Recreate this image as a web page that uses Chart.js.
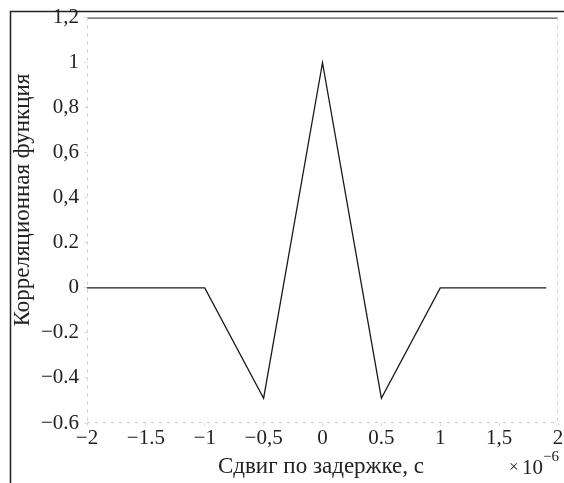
<!DOCTYPE html>
<html><head><meta charset="utf-8">
<script src="https://cdn.jsdelivr.net/npm/chart.js@4"></script>
<style>html,body{margin:0;padding:0;background:#fff;}#wrap{width:564px;height:483px;position:relative;}</style>
</head><body><div id="wrap"><canvas id="c" width="564" height="483"></canvas></div>
<script>
const delayX = [-2, -1, -0.5, 0, 0.5, 1, 1.9];
const corrY = [0, 0, -0.49, 1, -0.49, 0, 0];
const xTickValues = [-2, -1.5, -1, -0.5, 0, 0.5, 1, 1.5, 2];
const xTickLabels = ['\u22122', '\u22121.5', '\u22121', '\u22120,5', '0', '0.5', '1', '1,5', '2'];
const yTickValues = [1.2, 1, 0.8, 0.6, 0.4, 0.2, 0, -0.2, -0.4, -0.6];
const yTickLabels = ['1,2', '1', '0,8', '0,6', '0,4', '0.2', '0', '\u22120.2', '\u22120.4', '\u22120.6'];
const xTitle = 'Сдвиг по задержке, с';
const yTitle = 'Корреляционная функция';

const FONT = '"Liberation Serif", "DejaVu Serif", serif';
function lbl(vals, labs, v){ for(let i=0;i<vals.length;i++){ if(Math.abs(vals[i]-v)<1e-6) return labs[i]; } return ''; }

const decor = {
  id: 'decor',
  beforeDraw(chart){
    const ctx = chart.ctx;
    ctx.save();
    ctx.fillStyle = '#fff'; ctx.fillRect(0,0,chart.width,chart.height);
    ctx.restore();
  },
  afterDraw(chart){
    const ctx = chart.ctx; const a = chart.chartArea;
    ctx.save();
    // outer frame (scan border)
    ctx.strokeStyle = '#222'; ctx.lineWidth = 1.5;
    ctx.beginPath(); ctx.moveTo(10.5, 483); ctx.lineTo(10.5, 11.5); ctx.lineTo(564, 11.5); ctx.stroke();
    // axes box
    ctx.strokeStyle = '#555'; ctx.lineWidth = 1.2;
    ctx.beginPath(); ctx.moveTo(a.left, a.top+0.5); ctx.lineTo(a.right, a.top+0.5); ctx.stroke();
    ctx.strokeStyle = '#cfcfcf'; ctx.lineWidth = 1; ctx.setLineDash([3,5]);
    ctx.beginPath();
    ctx.moveTo(a.left+0.5, a.top); ctx.lineTo(a.left+0.5, a.bottom);
    ctx.moveTo(a.right-0.5, a.top); ctx.lineTo(a.right-0.5, a.bottom);
    ctx.moveTo(a.left, a.bottom-0.5); ctx.lineTo(a.right, a.bottom-0.5);
    ctx.stroke();
    ctx.setLineDash([]);
    // titles
    ctx.fillStyle = '#222';
    ctx.font = '23px ' + FONT;
    ctx.textAlign = 'center'; ctx.textBaseline = 'middle';
    ctx.fillText(xTitle, 321, 467);
    ctx.save();
    ctx.translate(23, 200); ctx.rotate(-Math.PI/2);
    ctx.fillText(yTitle, 0, 0);
    ctx.restore();
    // exponent
    ctx.textAlign = 'left';
    ctx.font = '17px ' + FONT;
    ctx.fillText('\u00d7', 509, 468);
    ctx.font = '21px ' + FONT;
    ctx.fillText('10', 522, 468);
    ctx.font = '15px ' + FONT;
    ctx.fillText('\u22126', 543, 457);
    ctx.restore();
  }
};

new Chart(document.getElementById('c'), {
  type: 'line',
  data: { datasets: [{
    data: delayX.map((x,i)=>({x:x, y:corrY[i]})),
    borderColor: '#1a1a1a', borderWidth: 1.3, pointRadius: 0, tension: 0, fill: false
  }]},
  options: {
    responsive: false, animation: false,
    layout: { padding: { top: 17, right: 6, left: 0, bottom: 0 } },
    plugins: { legend: {display:false}, tooltip:{enabled:false}, title:{display:false} },
    scales: {
      x: {
        type: 'linear', min: -2, max: 2,
        afterBuildTicks(s){ s.ticks = xTickValues.map(v=>({value:v})); },
        afterFit(s){ s.height = 60; },
        grid: { display: true, drawOnChartArea: false, drawTicks: true, tickLength: 3, color: '#ddd' },
        border: { display: false },
        ticks: { color: '#222', font: { family: FONT, size: 21 }, padding: 0, maxRotation: 0, autoSkip: false,
          callback: (v)=>lbl(xTickValues, xTickLabels, v) }
      },
      y: {
        type: 'linear', min: -0.6, max: 1.2,
        afterBuildTicks(s){ s.ticks = yTickValues.map(v=>({value:v})); },
        afterFit(s){ s.width = 87; },
        grid: { display: true, drawOnChartArea: false, drawTicks: true, tickLength: 3, color: '#ddd' },
        border: { display: false },
        ticks: { color: '#222', font: { family: FONT, size: 21 }, padding: 5, autoSkip: false,
          callback: (v)=>lbl(yTickValues, yTickLabels, v) }
      }
    }
  },
  plugins: [decor]
});
</script></body></html>
